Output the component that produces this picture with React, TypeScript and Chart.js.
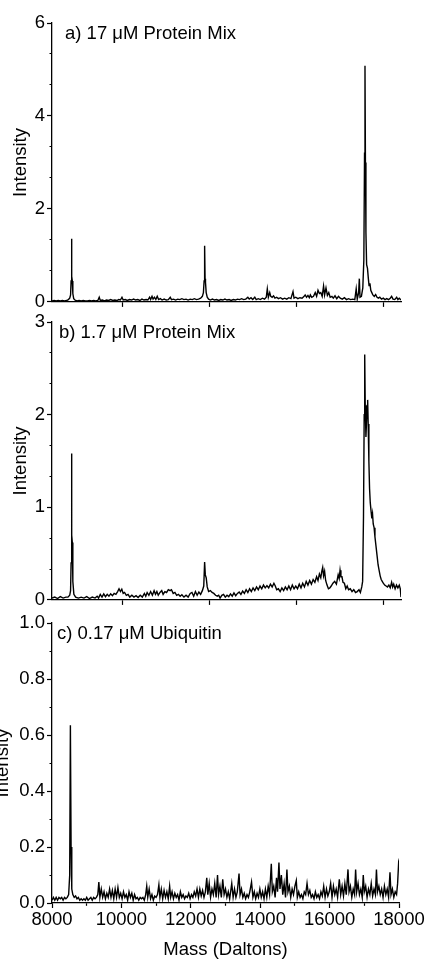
import React, { useEffect, useRef } from "react";
import { Chart, registerables } from "chart.js";

Chart.register(...registerables);

const FONT = '"Liberation Sans", Arial, Helvetica, sans-serif';

// ---------- Panel a) 17 µM Protein Mix ----------
const massA = [
  7960, 8020, 8080, 8140, 8200, 8260, 8320, 8380, 8430, 8470, 8495, 8510, 8522, 8532, 8545, 8560, 8585, 8620,
  8680, 8740, 8800, 8860, 8920, 8980, 9040, 9100, 9160, 9220, 9280, 9320, 9350, 9410, 9470, 9530, 9590, 9650,
  9710, 9770, 9830, 9880, 9930, 9975, 10010, 10070, 10130, 10190, 10250, 10310, 10370, 10430, 10490, 10550,
  10610, 10670, 10720, 10770, 10800, 10840, 10870, 10910, 10950, 10990, 11030, 11080, 11130, 11190, 11250,
  11310, 11365, 11400, 11460, 11520, 11580, 11640, 11700, 11760, 11820, 11880, 11940, 12000, 12060, 12120,
  12180, 12240, 12290, 12320, 12340, 12355, 12368, 12380, 12400, 12430, 12470, 12520, 12580, 12640, 12700,
  12760, 12820, 12880, 12940, 13000, 13060, 13120, 13180, 13240, 13300, 13360, 13420, 13480, 13540, 13600,
  13640, 13690, 13740, 13800, 13840, 13900, 13960, 14020, 14080, 14130, 14160, 14190, 14230, 14260, 14300,
  14340, 14380, 14430, 14480, 14540, 14600, 14660, 14720, 14780, 14840, 14900, 14930, 14980, 15040, 15100,
  15160, 15220, 15250, 15290, 15330, 15370, 15400, 15440, 15490, 15540, 15580, 15620, 15660, 15700, 15740,
  15780, 15810, 15850, 15890, 15930, 15970, 16020, 16060, 16110, 16160, 16210, 16260, 16320, 16380, 16440,
  16500, 16560, 16620, 16680, 16720, 16750, 16790, 16810, 16830, 16870, 16910, 16940, 16960, 16973, 16986,
  17000, 17020, 17045, 17070, 17090, 17115, 17140, 17170, 17200, 17240, 17280, 17320, 17360, 17400, 17450,
  17500, 17550, 17600, 17650, 17700, 17740, 17780, 17830, 17885, 17920, 17960, 18010,
];
const intensityA = [
  0.02, 0.03, 0.02, 0.03, 0.02, 0.03, 0.02, 0.03, 0.05, 0.08, 0.15, 0.45, 1.36, 0.55, 0.45, 0.18, 0.07, 0.04,
  0.02, 0.03, 0.02, 0.03, 0.02, 0.02, 0.03, 0.02, 0.03, 0.02, 0.03, 0.1, 0.03, 0.04, 0.02, 0.04, 0.03, 0.05,
  0.03, 0.04, 0.03, 0.05, 0.04, 0.1, 0.04, 0.05, 0.03, 0.05, 0.04, 0.06, 0.04, 0.05, 0.03, 0.06,
  0.04, 0.05, 0.04, 0.1, 0.05, 0.12, 0.06, 0.1, 0.05, 0.12, 0.05, 0.07, 0.04, 0.06, 0.04,
  0.05, 0.1, 0.05, 0.06, 0.04, 0.06, 0.05, 0.07, 0.05, 0.06, 0.04, 0.06, 0.05, 0.07, 0.05,
  0.06, 0.08, 0.12, 0.2, 0.45, 1.21, 0.5, 0.42, 0.2, 0.1, 0.06, 0.04, 0.06, 0.04, 0.05,
  0.03, 0.05, 0.04, 0.06, 0.04, 0.05, 0.03, 0.05, 0.04, 0.06, 0.05, 0.07, 0.05, 0.06, 0.1,
  0.06, 0.09, 0.05, 0.1, 0.05, 0.07, 0.05, 0.08, 0.06, 0.1, 0.28, 0.1, 0.2, 0.12, 0.1,
  0.13, 0.08, 0.1, 0.07, 0.09, 0.06, 0.08, 0.06, 0.09, 0.07, 0.22, 0.08, 0.1, 0.07, 0.09,
  0.08, 0.12, 0.15, 0.1, 0.14, 0.09, 0.15, 0.1, 0.12, 0.2, 0.12, 0.25, 0.18, 0.2, 0.12,
  0.34, 0.15, 0.3, 0.14, 0.2, 0.1, 0.12, 0.08, 0.13, 0.07, 0.12, 0.08, 0.06, 0.09, 0.05,
  0.07, 0.05, 0.06, 0.05, 0.28, 0.06, 0.2, 0.5, 0.1, 0.12, 0.3, 0.9, 3.2, 5.08, 3.0,
  1.5, 0.8, 0.72, 0.5, 0.35, 0.4, 0.25, 0.2, 0.15, 0.12, 0.16, 0.1, 0.08, 0.1, 0.06,
  0.08, 0.05, 0.07, 0.05, 0.08, 0.12, 0.06, 0.05, 0.1, 0.05, 0.08, 0.04,
];

// ---------- Panel b) 1.7 µM Protein Mix ----------
const massB = [
  7960, 8040, 8120, 8200, 8280, 8360, 8420, 8470, 8495, 8510, 8522, 8532, 8545, 8560, 8590, 8640, 8720, 8800,
  8880, 8960, 9040, 9120, 9200, 9260, 9300, 9350, 9400, 9450, 9500, 9550, 9600, 9650, 9700, 9750, 9800, 9850,
  9890, 9930, 9970, 10010, 10050, 10100, 10150, 10200, 10260, 10320, 10380, 10440, 10500, 10560, 10620, 10660,
  10700, 10750, 10800, 10850, 10900, 10940, 10980, 11020, 11070, 11120, 11160, 11210, 11260, 11310, 11360,
  11400, 11450, 11500, 11550, 11600, 11650, 11700, 11760, 11820, 11880, 11940, 11990, 12040, 12090, 12140,
  12190, 12240, 12290, 12330, 12355, 12375, 12400, 12430, 12470, 12520, 12570, 12620, 12670, 12720, 12760,
  12800, 12850, 12900, 12950, 13000, 13050, 13100, 13150, 13200, 13250, 13300, 13350, 13400, 13450, 13500,
  13550, 13600, 13650, 13700, 13750, 13800, 13850, 13900, 13950, 14000, 14050, 14100, 14150, 14200, 14250,
  14300, 14350, 14390, 14430, 14480, 14530, 14580, 14630, 14680, 14730, 14780, 14830, 14880, 14930, 14980,
  15030, 15080, 15130, 15180, 15230, 15280, 15330, 15380, 15430, 15480, 15530, 15580, 15620, 15660, 15700,
  15730, 15755, 15780, 15810, 15840, 15880, 15920, 15960, 16000, 16050, 16100, 16150, 16200, 16230, 16255,
  16280, 16310, 16340, 16380, 16420, 16460, 16500, 16550, 16600, 16650, 16700, 16750, 16800, 16840, 16880,
  16905, 16930, 16950, 16965, 16980, 17000, 17015, 17035, 17050, 17065, 17085, 17105, 17125, 17150, 17170,
  17190, 17210, 17235, 17260, 17290, 17320, 17350, 17380, 17410, 17440, 17470, 17500, 17540, 17580, 17620,
  17660, 17700, 17740, 17770, 17800, 17840, 17880, 17920, 17960, 17990, 18010,
];
const intensityB = [
  0.02, 0.03, 0.015, 0.035, 0.02, 0.03, 0.03, 0.05, 0.1, 0.4, 1.58, 0.7, 0.62, 0.2, 0.06, 0.03, 0.02, 0.03,
  0.02, 0.035, 0.015, 0.03, 0.02, 0.04, 0.02, 0.06, 0.03, 0.065, 0.035, 0.06, 0.04, 0.065, 0.045, 0.07, 0.06, 0.09,
  0.12, 0.09, 0.115, 0.07, 0.08, 0.05, 0.06, 0.03, 0.05, 0.03, 0.045, 0.025, 0.05, 0.03, 0.07, 0.04,
  0.08, 0.05, 0.09, 0.05, 0.1, 0.06, 0.09, 0.05, 0.08, 0.1, 0.06, 0.09, 0.08, 0.11, 0.1,
  0.11, 0.07, 0.08, 0.05, 0.06, 0.04, 0.055, 0.03, 0.05, 0.03, 0.07, 0.08, 0.04, 0.09, 0.05,
  0.085, 0.06, 0.1, 0.15, 0.41, 0.27, 0.24, 0.14, 0.09, 0.1, 0.08, 0.07, 0.05, 0.04, 0.05,
  0.02, 0.05, 0.06, 0.03, 0.05, 0.035, 0.065, 0.04, 0.075, 0.045, 0.07, 0.085, 0.06, 0.095, 0.07,
  0.11, 0.08, 0.12, 0.09, 0.13, 0.1, 0.14, 0.11, 0.15, 0.12, 0.16, 0.13, 0.155, 0.13, 0.17,
  0.14, 0.18, 0.15, 0.11, 0.12, 0.09, 0.13, 0.1, 0.14, 0.11, 0.15, 0.11, 0.16, 0.12, 0.15,
  0.12, 0.17, 0.13, 0.18, 0.14, 0.2, 0.16, 0.21, 0.17, 0.22, 0.19, 0.25, 0.21, 0.28, 0.24,
  0.31, 0.35, 0.26, 0.31, 0.21, 0.16, 0.12, 0.13, 0.15, 0.18, 0.2, 0.17, 0.27, 0.23, 0.32,
  0.25, 0.25, 0.19, 0.18, 0.12, 0.15, 0.11, 0.12, 0.09, 0.11, 0.08, 0.09, 0.11, 0.08, 0.14,
  0.2, 0.9, 2.0, 2.65, 2.1, 1.76, 1.9, 2.1, 2.16, 1.9, 1.5, 1.2, 1.05, 0.95, 0.88,
  0.93, 0.82, 0.78, 0.68, 0.58, 0.48, 0.38, 0.32, 0.26, 0.22, 0.2, 0.18, 0.16, 0.15, 0.14,
  0.16, 0.13, 0.19, 0.14, 0.17, 0.12, 0.16, 0.13, 0.16, 0.12, 0.03,
];

// ---------- Panel c) 0.17 µM Ubiquitin ----------
const massC = [
  8000, 8040, 8080, 8120, 8160, 8200, 8240, 8280, 8320, 8360, 8400, 8440, 8480, 8510, 8530, 8550, 8570, 8600,
  8640, 8680, 8720, 8760, 8800, 8840, 8880, 8920, 8960, 9000, 9040, 9080, 9120, 9160, 9200, 9240, 9280, 9320,
  9350, 9380, 9420, 9460, 9500, 9540, 9580, 9620, 9660, 9700, 9740, 9780, 9820, 9860, 9900, 9940, 9980, 10020,
  10060, 10100, 10140, 10180, 10220, 10260, 10300, 10340, 10380, 10420, 10460, 10500, 10540, 10580, 10620,
  10660, 10700, 10730, 10760, 10800, 10840, 10880, 10920, 10960, 11000, 11040, 11080, 11110, 11150, 11190,
  11230, 11270, 11310, 11350, 11390, 11420, 11460, 11500, 11540, 11580, 11620, 11660, 11700, 11740, 11780,
  11820, 11860, 11900, 11940, 11980, 12020, 12060, 12100, 12140, 12180, 12220, 12260, 12300, 12340, 12380,
  12420, 12460, 12490, 12530, 12570, 12610, 12650, 12690, 12730, 12770, 12800, 12840, 12880, 12920, 12960,
  13000, 13040, 13080, 13120, 13180, 13220, 13260, 13300, 13340, 13390, 13420, 13460, 13500, 13540, 13580,
  13620, 13660, 13700, 13750, 13790, 13830, 13870, 13910, 13950, 13990, 14030, 14070, 14110, 14150, 14190,
  14230, 14270, 14320, 14350, 14390, 14430, 14470, 14500, 14540, 14570, 14610, 14650, 14690, 14730, 14770,
  14800, 14840, 14880, 14920, 14960, 15000, 15040, 15070, 15110, 15150, 15190, 15230, 15270, 15310, 15350,
  15390, 15430, 15470, 15510, 15550, 15590, 15630, 15670, 15710, 15750, 15790, 15830, 15870, 15910, 15950,
  15990, 16030, 16070, 16110, 16150, 16190, 16230, 16280, 16320, 16360, 16400, 16440, 16480, 16530, 16560,
  16600, 16640, 16680, 16720, 16750, 16780, 16820, 16860, 16900, 16940, 16970, 17000, 17040, 17080, 17120,
  17160, 17200, 17240, 17280, 17320, 17350, 17380, 17420, 17460, 17500, 17540, 17580, 17620, 17660, 17700,
  17740, 17770, 17810, 17850, 17890, 17930, 17960, 17990, 18000,
];
const intensityC = [
  0.01, 0.02, 0.01, 0.02, 0.01, 0.02, 0.015, 0.02, 0.01, 0.02, 0.015, 0.02, 0.03, 0.1, 0.635, 0.2, 0.05, 0.03,
  0.02, 0.025, 0.015, 0.02, 0.01, 0.015, 0.01, 0.015, 0.01, 0.02, 0.01, 0.015, 0.02, 0.01, 0.02, 0.015, 0.02, 0.03,
  0.075, 0.02, 0.05, 0.02, 0.04, 0.015, 0.035, 0.02, 0.05, 0.02, 0.045, 0.015, 0.05, 0.02, 0.055, 0.02, 0.035, 0.015,
  0.04, 0.02, 0.03, 0.01, 0.04, 0.02, 0.035, 0.01, 0.03, 0.015, 0.02, 0.01, 0.02, 0.015, 0.02,
  0.01, 0.03, 0.06, 0.02, 0.05, 0.015, 0.03, 0.01, 0.025, 0.02, 0.03, 0.065, 0.02, 0.05, 0.015,
  0.045, 0.02, 0.04, 0.015, 0.06, 0.02, 0.04, 0.015, 0.035, 0.02, 0.03, 0.01, 0.04, 0.02, 0.03,
  0.015, 0.025, 0.02, 0.035, 0.015, 0.03, 0.02, 0.04, 0.025, 0.05, 0.02, 0.05, 0.025, 0.045, 0.02,
  0.04, 0.09, 0.03, 0.07, 0.02, 0.05, 0.03, 0.07, 0.02, 0.1, 0.03, 0.06, 0.02, 0.085, 0.03,
  0.05, 0.02, 0.04, 0.015, 0.07, 0.02, 0.05, 0.02, 0.04, 0.105, 0.03, 0.05, 0.02, 0.035, 0.015,
  0.03, 0.02, 0.04, 0.075, 0.02, 0.04, 0.015, 0.035, 0.02, 0.05, 0.02, 0.04, 0.015, 0.05, 0.02,
  0.06, 0.03, 0.14, 0.04, 0.06, 0.02, 0.09, 0.04, 0.145, 0.05, 0.1, 0.03, 0.07, 0.02, 0.12,
  0.04, 0.06, 0.02, 0.05, 0.03, 0.06, 0.08, 0.02, 0.04, 0.02, 0.03, 0.015, 0.04, 0.03, 0.07,
  0.03, 0.045, 0.02, 0.03, 0.015, 0.04, 0.02, 0.03, 0.015, 0.04, 0.025, 0.06, 0.02, 0.05, 0.025,
  0.04, 0.07, 0.02, 0.06, 0.03, 0.05, 0.02, 0.085, 0.03, 0.06, 0.025, 0.07, 0.03, 0.12, 0.04,
  0.06, 0.02, 0.05, 0.03, 0.12, 0.04, 0.07, 0.03, 0.05, 0.02, 0.1, 0.04, 0.06, 0.02, 0.05,
  0.03, 0.07, 0.025, 0.05, 0.03, 0.12, 0.04, 0.06, 0.03, 0.05, 0.02, 0.06, 0.03, 0.05, 0.02,
  0.11, 0.03, 0.05, 0.02, 0.04, 0.03, 0.07, 0.145, 0.14,
];

// ---------- Axes / text ----------
const panelLabels = ["a) 17 \u03bcM Protein Mix", "b) 1.7 \u03bcM Protein Mix", "c) 0.17 \u03bcM Ubiquitin"];
const yTitle = "Intensity";
const xTitle = "Mass (Daltons)";
const xTicksTop = [10000, 12500, 15000, 17500];
const xMajorBottom = [8000, 10000, 12000, 14000, 16000, 18000];
const yMajorA = [0, 2, 4, 6];
const yMajorB = [0, 1, 2, 3];
const yMajorC = [0, 0.2, 0.4, 0.6, 0.8, 1.0];

function withMinors(majors: number[], sub: number): number[] {
  const out: number[] = [];
  for (let i = 0; i < majors.length; i++) {
    out.push(majors[i]);
    if (i < majors.length - 1) {
      const step = (majors[i + 1] - majors[i]) / sub;
      for (let k = 1; k < sub; k++) out.push(majors[i] + step * k);
    }
  }
  return out;
}
const isMajor = (v: number, majors: number[]) => majors.some((m) => Math.abs(m - v) < 1e-6);

const panelLabelPlugin = {
  id: "panelLabel",
  afterDraw(chart: any, _args: any, opts: any) {
    const { ctx, chartArea } = chart;
    ctx.save();
    ctx.font = `${opts.size}px ${FONT}`;
    ctx.fillStyle = "#000";
    ctx.textBaseline = "alphabetic";
    ctx.textAlign = "left";
    ctx.fillText(opts.text, chartArea.left + opts.dx, chartArea.top + opts.dy);
    ctx.restore();
  },
};

type Panel = {
  mass: number[];
  intensity: number[];
  xMin: number;
  xMax: number;
  xTicks: number[];
  xMajors: number[];
  bottom: boolean;
  yMax: number;
  yMajors: number[];
  ySub: number;
  yDec: number;
  label: string;
  dx: number;
  dy: number;
  top: number;
  height: number;
  padTop: number;
  padRight: number;
  xHeight: number;
  yTitlePad: number;
};

const panels: Panel[] = [
  {
    mass: massA, intensity: intensityA, xMin: 7960, xMax: 18010, xTicks: xTicksTop, xMajors: xTicksTop,
    bottom: false, yMax: 6, yMajors: yMajorA, ySub: 3, yDec: 0, label: panelLabels[0], dx: 13, dy: 16,
    top: 0, height: 315, padTop: 23, padRight: 25, xHeight: 12, yTitlePad: 12,
  },
  {
    mass: massB, intensity: intensityB, xMin: 7960, xMax: 18010, xTicks: xTicksTop, xMajors: xTicksTop,
    bottom: false, yMax: 3, yMajors: yMajorB, ySub: 3, yDec: 0, label: panelLabels[1], dx: 7, dy: 15.5,
    top: 309, height: 304, padTop: 12, padRight: 25, xHeight: 12, yTitlePad: 12,
  },
  {
    mass: massC, intensity: intensityC, xMin: 8000, xMax: 18000, xTicks: withMinors(xMajorBottom, 2),
    xMajors: xMajorBottom, bottom: true, yMax: 1, yMajors: yMajorC, ySub: 2, yDec: 1, label: panelLabels[2],
    dx: 5, dy: 15.5, top: 610, height: 349, padTop: 13, padRight: 27, xHeight: 56, yTitlePad: -6.5,
  },
];

function makeChart(canvas: HTMLCanvasElement, p: Panel) {
  const yTicks = withMinors(p.yMajors, p.ySub);
  return new Chart(canvas, {
    type: "line",
    data: {
      datasets: [
        {
          data: p.mass.map((m, i) => ({ x: m, y: p.intensity[i] })),
          borderColor: "#000",
          borderWidth: 1.4,
          pointRadius: 0,
          tension: 0,
          fill: false,
        },
      ],
    },
    options: {
      animation: false,
      responsive: false,
      devicePixelRatio: 1,
      layout: { padding: { top: p.padTop, right: p.padRight, bottom: 0, left: 0 } },
      plugins: {
        legend: { display: false },
        tooltip: { enabled: false },
        panelLabel: { text: p.label, dx: p.dx, dy: p.dy, size: 18.5 },
      } as any,
      scales: {
        x: {
          type: "linear",
          min: p.xMin,
          max: p.xMax,
          afterBuildTicks: (s: any) => {
            s.ticks = p.xTicks.map((v) => ({ value: v }));
          },
          afterFit: (s: any) => {
            s.height = p.xHeight;
          },
          ticks: {
            display: p.bottom,
            autoSkip: false,
            maxRotation: 0,
            padding: 1,
            color: "#000",
            font: { size: 18.5, family: FONT },
            callback: (v: any) => (p.bottom && isMajor(Number(v), p.xMajors) ? String(v) : ""),
          },
          grid: {
            drawOnChartArea: false,
            drawTicks: true,
            tickLength: 5,
            tickColor: "#000",
            tickWidth: 1.2,
            tickBorderDash: (ctx: any) =>
              ctx.tick && !isMajor(ctx.tick.value, p.xMajors) ? [2.5, 30] : [],
          },
          border: { display: true, color: "#000", width: 1.3 },
          title: {
            display: p.bottom,
            text: xTitle,
            color: "#000",
            font: { size: 18.5, family: FONT, lineHeight: 1 },
            padding: { top: 0, bottom: 0 },
          },
        },
        y: {
          type: "linear",
          min: 0,
          max: p.yMax,
          afterBuildTicks: (s: any) => {
            s.ticks = yTicks.map((v) => ({ value: v }));
          },
          afterFit: (s: any) => {
            s.width = 52;
          },
          ticks: {
            autoSkip: false,
            padding: 2,
            color: "#000",
            font: { size: 18.5, family: FONT },
            callback: (v: any) => (isMajor(Number(v), p.yMajors) ? Number(v).toFixed(p.yDec) : ""),
          },
          grid: {
            drawOnChartArea: false,
            drawTicks: true,
            tickLength: 5,
            tickColor: "#000",
            tickWidth: 1.2,
            tickBorderDash: (ctx: any) =>
              ctx.tick && !isMajor(ctx.tick.value, p.yMajors) ? [0, 2.5, 30] : [],
          },
          border: { display: true, color: "#000", width: 1.3 },
          title: {
            display: true,
            text: yTitle,
            color: "#000",
            font: { size: 18.5, family: FONT, lineHeight: 1 },
            padding: { top: p.yTitlePad, bottom: 0 },
          },
        },
      },
    } as any,
    plugins: [panelLabelPlugin as any],
  });
}

export default function App() {
  const r0 = useRef<HTMLCanvasElement>(null);
  const r1 = useRef<HTMLCanvasElement>(null);
  const r2 = useRef<HTMLCanvasElement>(null);
  const refs = [r0, r1, r2];

  useEffect(() => {
    const charts = refs.map((r, i) => makeChart(r.current as HTMLCanvasElement, panels[i]));
    return () => charts.forEach((c) => c.destroy());
  }, []);

  return (
    <div style={{ position: "absolute", left: 0, top: 0, width: 426, height: 959, background: "#fff" }}>
      {panels.map((p, i) => (
        <canvas
          key={i}
          ref={refs[i]}
          width={426}
          height={p.height}
          style={{ position: "absolute", left: 0, top: p.top, width: 426, height: p.height, display: "block" }}
        />
      ))}
    </div>
  );
}
